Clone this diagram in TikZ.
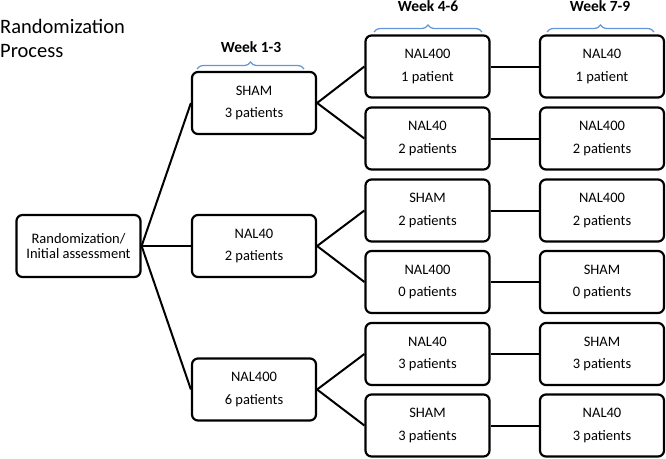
\documentclass[tikz,border=0pt]{standalone}
\usepackage{fontspec}
\setmainfont{Carlito}
\usetikzlibrary{decorations.pathreplacing}
\definecolor{bracecol}{RGB}{100,150,215}

\begin{document}
\begin{tikzpicture}[x=1pt, y=-1pt,
            box/.style={draw, rectangle, rounded corners=6pt, line width=2.2pt, minimum width=124pt, minimum height=62pt, align=center, font=\fontsize{14.5}{22.5}\selectfont},
            link/.style={line width=2pt},
            weekbrace/.style={draw=bracecol, line width=1.2pt, decorate, decoration={brace, amplitude=7pt}},
            week/.style={anchor=base, font=\bfseries\fontsize{15.5}{18}\selectfont}]
            \useasboundingbox (0,0) rectangle (666,458);

            \node[anchor=north west, inner sep=0pt, align=left, font=\fontsize{20.5}{24}\selectfont] (title) at (0,19) {Randomization\\Process};

            \node[box, font=\fontsize{14.5}{15.5}\selectfont] (start) at (78.5,246) {Randomization/\\Initial assessment};

            % week 1-3
            \node[box] (w1a) at (254,103) {SHAM\\3 patients};
            \node[box] (w1b) at (254,246) {NAL40\\2 patients};
            \node[box] (w1c) at (254,389.5) {NAL400\\6 patients};

            % week 4-6
            \node[box] (w2a) at (427.5,66.5) {NAL400\\1 patient};
            \node[box] (w2b) at (427.5,138.5) {NAL40\\2 patients};
            \node[box] (w2c) at (427.5,210.5) {SHAM\\2 patients};
            \node[box] (w2d) at (427.5,282) {NAL400\\0 patients};
            \node[box] (w2e) at (427.5,354) {NAL40\\3 patients};
            \node[box] (w2f) at (427.5,425.5) {SHAM\\3 patients};

            % week 7-9
            \node[box] (w3a) at (602,66.5) {NAL40\\1 patient};
            \node[box] (w3b) at (602,138.5) {NAL400\\2 patients};
            \node[box] (w3c) at (602,210.5) {NAL400\\2 patients};
            \node[box] (w3d) at (602,282) {SHAM\\0 patients};
            \node[box] (w3e) at (602,354) {SHAM\\3 patients};
            \node[box] (w3f) at (602,425.5) {NAL40\\3 patients};

            \node[week] (lab1) at (251,52.5) {Week 1-3};
            \node[week] (lab2) at (428,11) {Week 4-6};
            \node[week] (lab3) at (600,11) {Week 7-9};

            \draw[weekbrace] (197,69) -- (304,69);
            \draw[weekbrace] (374,32) -- (482,32);
            \draw[weekbrace] (547,32) -- (654,32);

            \draw[link] (start.east) -- (w1a.west);
            \draw[link] (start.east) -- (w1b.west);
            \draw[link] (start.east) -- (w1c.west);

            \draw[link] (w1a.east) -- (w2a.west);
            \draw[link] (w1a.east) -- (w2b.west);
            \draw[link] (w1b.east) -- (w2c.west);
            \draw[link] (w1b.east) -- (w2d.west);
            \draw[link] (w1c.east) -- (w2e.west);
            \draw[link] (w1c.east) -- (w2f.west);

            \draw[link] (w2a.east) -- (w3a.west);
            \draw[link] (w2b.east) -- (w3b.west);
            \draw[link] (w2c.east) -- (w3c.west);
            \draw[link] (w2d.east) -- (w3d.west);
            \draw[link] (w2e.east) -- (w3e.west);
            \draw[link] (w2f.east) -- (w3f.west);
        \end{tikzpicture}
\end{document}
